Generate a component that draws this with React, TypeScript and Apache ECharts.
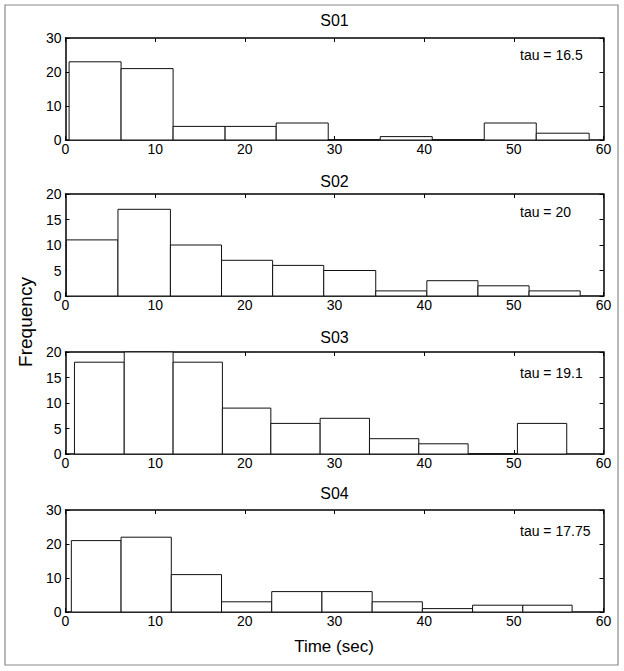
import React, { useEffect, useRef } from "react";
import * as echarts from "echarts";

const subjects = ["S01", "S02", "S03", "S04"];
const tauValues = ["16.5", "20", "19.1", "17.75"];
const yMaxes = [30, 20, 20, 30];
const yIntervals = [10, 5, 5, 10];

const edgesS01 = [0.4, 6.2, 12.0, 17.8, 23.5, 29.3, 35.1, 40.9, 46.7, 52.5, 58.4];
const countsS01 = [23, 21, 4, 4, 5, 0, 1, 0, 5, 2];
const edgesS02 = [0.1, 5.85, 11.7, 17.4, 23.1, 28.8, 34.6, 40.3, 46.0, 51.7, 57.4];
const countsS02 = [11, 17, 10, 7, 6, 5, 1, 3, 2, 1];
const edgesS03 = [1.0, 6.55, 12.0, 17.5, 22.9, 28.4, 33.9, 39.4, 44.9, 50.4, 55.9];
const countsS03 = [18, 20, 18, 9, 6, 7, 3, 2, 0, 6];
const edgesS04 = [0.65, 6.2, 11.8, 17.4, 23.0, 28.6, 34.2, 39.8, 45.4, 51.0, 56.5];
const countsS04 = [21, 22, 11, 3, 6, 6, 3, 1, 2, 2];

const allEdges = [edgesS01, edgesS02, edgesS03, edgesS04];
const allCounts = [countsS01, countsS02, countsS03, countsS04];

const FONT = "Liberation Sans, Arial, Helvetica, sans-serif";

export default function App() {
  const ref = useRef<HTMLDivElement>(null);
  useEffect(() => {
    if (!ref.current) return;
    const chart = echarts.init(ref.current, undefined, { renderer: "svg" });
    const tops = [38, 194, 352, 510];
    const h = 102;
    const left = 65.5;
    const right = 20.5;
    const titleY = [20, 181, 337, 493];
    const tauY = [55, 212, 373, 531];

    const grid: any[] = [];
    const xAxis: any[] = [];
    const yAxis: any[] = [];
    const series: any[] = [];
    const graphic: any[] = [];

    graphic.push({
      type: "rect",
      shape: { x: 5, y: 5, width: 613, height: 660 },
      style: { fill: "none", stroke: "#8a8a8a", lineWidth: 1.2 },
      silent: true,
    });

    const axisLine = { show: true, onZero: false, lineStyle: { color: "#000", width: 1.5 } };
    const tick = { show: true, inside: true, length: 4, lineStyle: { color: "#000", width: 1 } };

    subjects.forEach((name, i) => {
      grid.push({ left, right, top: tops[i], height: h, containLabel: false });
      xAxis.push({
        type: "value", gridIndex: i, min: 0, max: 60, interval: 10, position: "bottom",
        axisLine, axisTick: tick, splitLine: { show: false },
        axisLabel: { show: true, color: "#000", fontSize: 14, fontFamily: FONT, margin: 2 },
      });
      xAxis.push({
        type: "value", gridIndex: i, min: 0, max: 60, interval: 10, position: "top",
        axisLine, axisTick: tick, splitLine: { show: false }, axisLabel: { show: false },
      });
      yAxis.push({
        type: "value", gridIndex: i, min: 0, max: yMaxes[i], interval: yIntervals[i], position: "left",
        axisLine, axisTick: tick, splitLine: { show: false },
        axisLabel: { show: true, color: "#000", fontSize: 14, fontFamily: FONT, margin: 4 },
      });
      yAxis.push({
        type: "value", gridIndex: i, min: 0, max: yMaxes[i], interval: yIntervals[i], position: "right",
        axisLine, axisTick: tick, splitLine: { show: false }, axisLabel: { show: false },
      });
      const edges = allEdges[i];
      const counts = allCounts[i];
      const data = counts.map((c, k) => [edges[k], edges[k + 1], c]);
      series.push({
        type: "custom",
        xAxisIndex: i * 2,
        yAxisIndex: i * 2,
        data,
        clip: false,
        renderItem: (params: any, api: any) => {
          const x0 = api.value(0);
          const x1 = api.value(1);
          const y = api.value(2);
          const p0 = api.coord([x0, y]);
          const p1 = api.coord([x1, 0]);
          return {
            type: "rect",
            shape: { x: p0[0], y: p0[1], width: p1[0] - p0[0], height: p1[1] - p0[1] },
            style: { fill: "#fff", stroke: "#111", lineWidth: 1 },
          };
        },
      });
      graphic.push({
        type: "text",
        x: 334.5,
        y: titleY[i],
        style: {
          text: name, fill: "#000", font: `16px ${FONT}`,
          textAlign: "center", textVerticalAlign: "middle",
        },
        silent: true,
      });
      graphic.push({
        type: "text",
        x: 520,
        y: tauY[i],
        z: 100,
        style: {
          text: `tau = ${tauValues[i]}`, fill: "#000", font: `14px ${FONT}`,
          textAlign: "left", textVerticalAlign: "middle",
        },
        silent: true,
      });
    });

    graphic.push({
      type: "text",
      x: 25,
      y: 322,
      rotation: Math.PI / 2,
      style: {
        text: "Frequency", fill: "#000", font: `19px ${FONT}`,
        textAlign: "center", textVerticalAlign: "middle",
      },
      silent: true,
    });
    graphic.push({
      type: "text",
      x: 334,
      y: 646,
      style: {
        text: "Time (sec)", fill: "#000", font: `17px ${FONT}`,
        textAlign: "center", textVerticalAlign: "middle",
      },
      silent: true,
    });

    chart.setOption({
      animation: false,
      backgroundColor: "#fff",
      grid,
      xAxis,
      yAxis,
      series,
      graphic,
    });
    return () => chart.dispose();
  }, []);
  return (
    <div
      ref={ref}
      style={{ position: "fixed", left: 0, top: 0, width: 624, height: 671, background: "#fff" }}
    />
  );
}
